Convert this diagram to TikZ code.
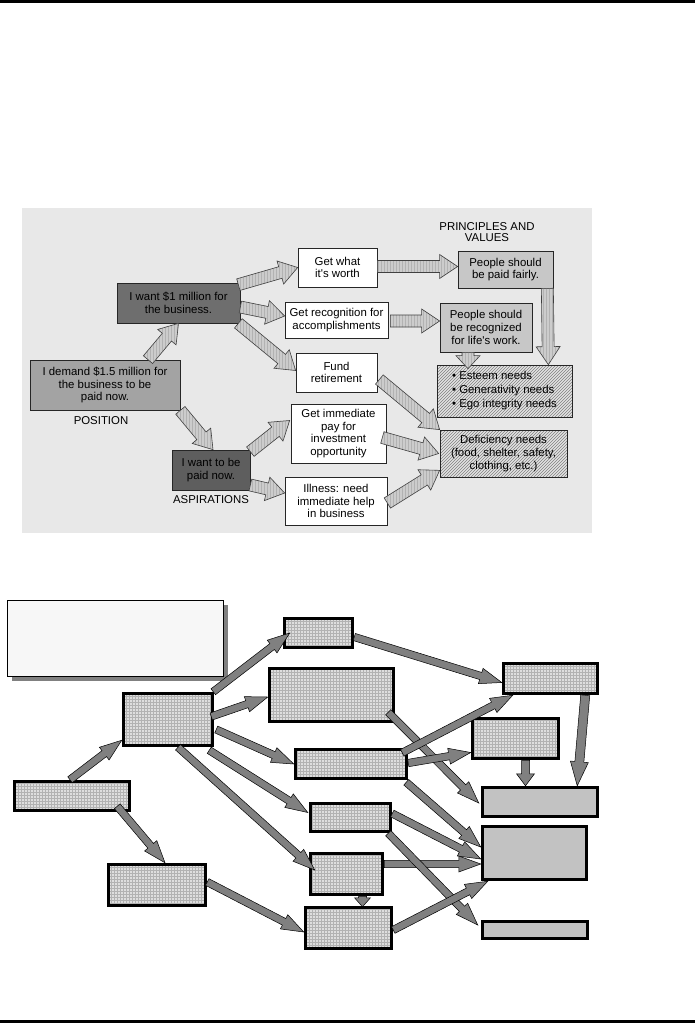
\documentclass[tikz,border=0pt]{standalone}
\usepackage{fontspec}
\newfontfamily\figfont{Liberation Sans}
\usetikzlibrary{calc,patterns,shadows}

\begin{document}
\begin{tikzpicture}[x=1pt, y=-1pt,
    every node/.style={font=\figfont\fontsize{11.4}{12.6}\selectfont},
    fat/.style args={#1/#2/#3}{to path={
        let \p1=(\tikztostart), \p2=(\tikztotarget),
            \n1={atan2(\y2-\y1,\x2-\x1)}, \n2={veclen(\x2-\x1,\y2-\y1)} in
        ($(\tikztostart)+(\n1+90:#1)$) -- ($(\tikztostart)+(\n1:{\n2-#3})+(\n1+90:#1)$)
        -- ($(\tikztostart)+(\n1:{\n2-#3})+(\n1+90:#2)$) -- (\tikztotarget)
        -- ($(\tikztostart)+(\n1:{\n2-#3})+(\n1-90:#2)$)
        -- ($(\tikztostart)+(\n1:{\n2-#3})+(\n1-90:#1)$)
        -- ($(\tikztostart)+(\n1-90:#1)$) -- cycle}},
    scanbox/.style={draw=black!85, line width=0.7pt, inner sep=0pt, align=center},
    hatch/.style={preaction={fill=black!11},
        preaction={pattern=north east lines, pattern color=black!50}},
    uarr/.style={draw=black!75, line width=0.6pt, preaction={fill=black!20},
        preaction={pattern=vertical lines, pattern color=black!30}, fat=6pt/12pt/18pt},
    gridbox/.style={draw=black, line width=3.5pt, preaction={fill=black!13},
        preaction={pattern=grid, pattern color=black!30}},
    plainbox/.style={draw=black, line width=3.5pt, fill=black!24},
    larr/.style={fill=black!50, draw=black, line width=0.5pt, fat=3.7pt/8pt/22pt}]

    \useasboundingbox (0,0) rectangle (695,1023);

    % filetti
    \fill (0,0) rectangle (695,2.5);
    \fill (0,1020) rectangle (695,1023);

    % foto in alto
    \fill[black!9] (22,208) rectangle (592,533);

    \node[scanbox, fill=black!57, minimum width=123pt, minimum height=40pt] (want1m) at (178.5,303)
        {I want \$1 million for\\the business.};
    \node[scanbox, fill=black!36, minimum width=150pt, minimum height=50pt] (demand) at (105,385)
        {I demand \$1.5 million for\\the business to be\\paid now.};
    \node[scanbox, fill=black!63, minimum width=78pt, minimum height=40pt] (paidnow) at (211,470)
        {I want to be\\paid now.};
    \node (poslbl) at (101,421) {POSITION};
    \node (asplbl) at (211,500) {ASPIRATIONS};

    \node[scanbox, fill=white, minimum width=79pt, minimum height=39pt] (worth) at (337.5,267.5)
        {Get what\\it's worth};
    \node[scanbox, fill=white, minimum width=103pt, minimum height=36pt] (recog) at (336.5,320)
        {Get recognition for\\accomplishments};
    \node[scanbox, fill=white, minimum width=81pt, minimum height=39pt] (fund) at (336.5,372.5)
        {Fund\\retirement};
    \node[scanbox, fill=white, minimum width=95pt, minimum height=59pt] (immed) at (338.5,433.5)
        {Get immediate\\pay for\\investment\\opportunity};
    \node[scanbox, fill=white, minimum width=102pt, minimum height=48pt] (illness) at (336,501)
        {Illness: need\\immediate help\\in business};

    \node[align=center, font=\figfont\fontsize{11.4}{11.5}\selectfont] (princ) at (487,232)
        {PRINCIPLES AND\\VALUES};
    \node[scanbox, fill=black!22, minimum width=95pt, minimum height=37pt] (fairly) at (505.5,269.5)
        {People should\\be paid fairly.};
    \node[scanbox, fill=black!22, minimum width=92pt, minimum height=49pt] (valued) at (486,327.5)
        {People should\\be recognized\\for life's work.};
    \node[scanbox, hatch, align=left, minimum width=135pt, minimum height=52pt,
        font=\figfont\fontsize{11.4}{14}\selectfont] (esteem) at (504.5,391)
        {\textbullet\ Esteem needs\\\textbullet\ Generativity needs\\\textbullet\ Ego integrity needs};
    \node[scanbox, hatch, minimum width=127pt, minimum height=47pt] (defic) at (503.5,453.5)
        {Deficiency needs\\(food, shelter, safety,\\clothing, etc.)};

    % frecce della foto
    \draw[uarr] ($(demand.north)+(43,0)$) to (want1m.south);
    \draw[uarr] ($(want1m.north east)+(-2,2)$) to (worth.west);
    \draw[uarr] ($(want1m.east)+(0,4)$) to ($(recog.west)+(0,-4)$);
    \draw[uarr] ($(want1m.south east)+(-2,0)$) to ($(fund.west)+(0,-2)$);
    \draw[uarr] (demand.south east) to ($(paidnow.north)+(2,0)$);
    \draw[uarr] ($(paidnow.north east)+(0,2)$) to ($(immed.west)+(-1,-13)$);
    \draw[uarr] ($(paidnow.east)+(0,15)$) to ($(illness.west)+(0,-8)$);
    \draw[uarr] ($(worth.east)+(0,-1)$) to ($(worth.east -| fairly.west)+(0,-1)$);
    \draw[uarr] ($(recog.east)+(2,1)$) to ($(recog.east -| valued.west)+(0,1)$);
    \draw[uarr] ($(fairly.south east)+(-6,0)$) to ($(esteem.north east)+(-24,0)$);
    \draw[uarr, fat=6pt/12pt/13pt] ($(valued.south)+(-18,0)$) to ($(valued.south |- esteem.north)+(-18,4)$);
    \draw[uarr] ($(fund.east)+(2,7)$) to (defic.north west);
    \draw[uarr] ($(immed.east)+(-4,4)$) to ($(defic.west)+(-1,0)$);
    \draw[uarr] ($(illness.east)+(0,2)$) to ($(defic.south west)+(0,-7)$);

    % schema vuoto in basso
    \node[draw=black, line width=0.8pt, fill=black!3, minimum width=216pt, minimum height=76pt,
        drop shadow={shadow xshift=5pt, shadow yshift=-5pt, fill=black!50, opacity=1}] (note) at (115,638) {};

    \node[gridbox, minimum width=89pt, minimum height=52pt] (lmain) at (168,719.5) {};
    \node[gridbox, minimum width=115pt, minimum height=29pt] (lpos) at (72,796) {};
    \node[gridbox, minimum width=97pt, minimum height=41pt] (lasp) at (157,885) {};
    \node[gridbox, minimum width=68pt, minimum height=29pt] (lw1) at (318.5,633) {};
    \node[gridbox, minimum width=124pt, minimum height=53pt] (lw2) at (331.5,695) {};
    \node[gridbox, minimum width=111pt, minimum height=29pt] (lw3) at (351,764) {};
    \node[gridbox, minimum width=80pt, minimum height=28pt] (lw4) at (350.5,817.5) {};
    \node[gridbox, minimum width=72pt, minimum height=41pt] (lw5) at (346.5,874) {};
    \node[gridbox, minimum width=86pt, minimum height=41pt] (lw6) at (348.5,928) {};
    \node[gridbox, minimum width=94pt, minimum height=30pt] (lp1) at (550.5,678.5) {};
    \node[gridbox, minimum width=86pt, minimum height=40pt] (lp2) at (515.5,738.5) {};
    \node[plainbox, minimum width=115pt, minimum height=29pt] (ln1) at (540,802) {};
    \node[plainbox, minimum width=104pt, minimum height=53pt] (ln2) at (534.5,853) {};
    \node[plainbox, minimum width=105pt, minimum height=17pt] (ln3) at (535,930) {};

    % frecce
    \draw[larr] ($(lpos.north)+(-2,0)$) to ($(lmain.south west)+(0,-7)$);
    \draw[larr] ($(lmain.north east)+(-1,0)$) to ($(lw1.west)+(7,0)$);
    \draw[larr] ($(lmain.east)+(-3,-3)$) to ($(lw2.west)+(0,2)$);
    \draw[larr] ($(lmain.east)+(2,10)$) to (lw3.west);
    \draw[larr] ($(lmain.south)+(10,0)$) to ($(lw5.west)+(6,-4)$);
    \draw[larr] ($(lmain.south east)+(-5,3)$) to ($(lw4.west)+(-1,-5)$);
    \draw[larr] ($(lpos.south east)+(-14,-6)$) to ($(lasp.north)+(8,0)$);
    \draw[larr] ($(lasp.east)+(0,-3)$) to ($(lw6.west)+(0,4)$);
    \draw[larr] ($(lw1.east)+(0,4)$) to ($(lp1.west)+(0,4)$);
    \draw[larr] ($(lw2.south east)+(-7,-11)$) to ($(ln1.west)+(-2,1)$);
    \draw[larr] ($(lw3.north east)+(-6,5)$) to ($(lp1.south west)+(11,0)$);
    \draw[larr] ($(lw3.east)+(0,-1)$) to ($(lp2.west)+(0,14)$);
    \draw[larr, fat=4pt/9pt/12pt] ($(lp2.south)+(10,0)$) to ($(lp2.south |- ln1.north)+(10,0)$);
    \draw[larr, fat=4.5pt/9pt/24pt] ($(lp1.south east)+(-14,0)$) to ($(ln1.north east)+(-22,0)$);
    \draw[larr] ($(lw3.south east)+(-2,2)$) to ($(ln2.west)+(0,-6)$);
    \draw[larr] ($(lw4.east)+(0,-4)$) to ($(ln2.west)+(0,6)$);
    \draw[larr] ($(lw5.east)+(0,-10)$) to ($(lw5.east -| ln2.west)+(0,-10)$);
    \draw[larr] ($(lw4.south east)+(-4,0)$) to ($(ln3.west)+(-3,-5)$);
    \draw[larr, fat=4pt/8pt/9pt] ($(lw5.south)+(16,0)$) to ($(lw6.north)+(14,1)$);
    \draw[larr] ($(lw6.east)+(0,2)$) to ($(ln2.south west)+(7,0)$);
\end{tikzpicture}
\end{document}
